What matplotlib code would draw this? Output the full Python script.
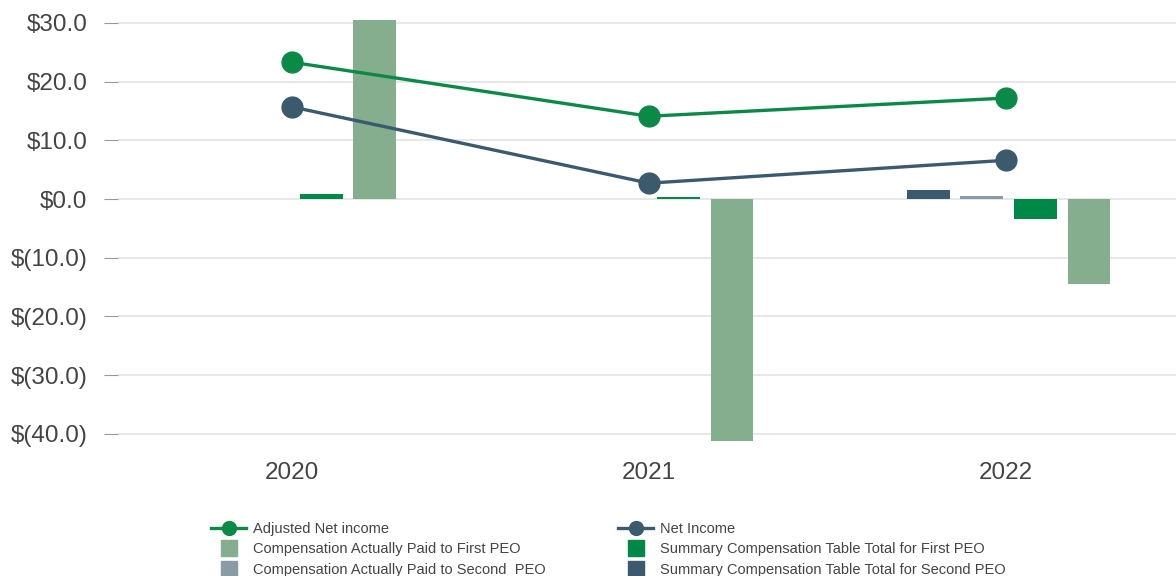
import numpy as np
import matplotlib.pyplot as plt
from matplotlib.lines import Line2D

plt.rcParams['font.family'] = ['Liberation Sans', 'DejaVu Sans']

years = ["2020", "2021", "2022"]
adj_net_income = [23.3, 14.1, 17.2]
net_income = [15.7, 2.7, 6.6]
sct_second = [np.nan, np.nan, 1.5]
cap_second = [np.nan, np.nan, 0.5]
sct_first = [0.85, 0.3, -3.4]
cap_first = [31.5, -41.2, -14.5]

c_green = "#0b8a47"
c_dkgreen = "#008846"
c_light = "#85ae8e"
c_navy = "#3c5a6e"
c_gray = "#8a9ba8"

fig = plt.figure(figsize=(11.76, 5.76), dpi=100)
ax = fig.add_axes([0.1003, 0.2316, 0.8997, 0.7337])

x = np.arange(len(years))
step = 0.15
w = 0.12
ax.bar(x - 1.5 * step + 0.0075, sct_second, w, color=c_navy, zorder=2)
ax.bar(x - 0.5 * step + 0.0075, cap_second, w, color=c_gray, zorder=2)
ax.bar(x + 0.5 * step + 0.0075, sct_first, w, color=c_dkgreen, zorder=2)
ax.bar(x + 1.5 * step + 0.0075, cap_first, w, color=c_light, zorder=2)

ax.plot(x, adj_net_income, color=c_green, lw=2.4, marker="o", ms=15, zorder=3)
ax.plot(x, net_income, color=c_navy, lw=2.4, marker="o", ms=15, zorder=3)

ax.set_xlim(-0.487, 2.476)
ax.set_ylim(-41.5, 30.5)
ticks = np.arange(-40, 31, 10)
ax.set_yticks(ticks)
ax.set_yticklabels([f"${v:.1f}" if v >= 0 else f"$({-v:.1f})" for v in ticks])
ax.set_xticks(x)
ax.set_xticklabels(years)
ax.tick_params(axis="y", length=10, color="#999999", labelsize=17.5, labelcolor="#444444", pad=12)
ax.tick_params(axis="x", length=0, labelsize=17.5, labelcolor="#444444", pad=14)
ax.grid(axis="y", color="#e3e3e3", lw=1.2, zorder=0)
ax.set_axisbelow(True)
for s in ax.spines.values():
    s.set_visible(False)


def sq(c):
    return Line2D([], [], color=c, ls="none", marker="s", ms=11.5)


handles = [
    Line2D([], [], color=c_green, lw=2.4, marker="o", ms=10),
    sq(c_light),
    sq(c_gray),
    Line2D([], [], color=c_navy, lw=2.4, marker="o", ms=10),
    sq(c_dkgreen),
    sq(c_navy),
]
labels = [
    "Adjusted Net income",
    "Compensation Actually Paid to First PEO",
    "Compensation Actually Paid to Second  PEO",
    "Net Income",
    "Summary Compensation Table Total for First PEO",
    "Summary Compensation Table Total for Second PEO",
]
leg = fig.legend(handles, labels, ncol=2, loc="lower left", bbox_to_anchor=(0.171, -0.0188),
                 frameon=False, labelcolor="#444444", handlelength=2.4,
                 handletextpad=0.45, columnspacing=5.0, labelspacing=0.42, borderpad=0.2,
                 fontsize=10.5)

fig.savefig("out.png", dpi=100)
